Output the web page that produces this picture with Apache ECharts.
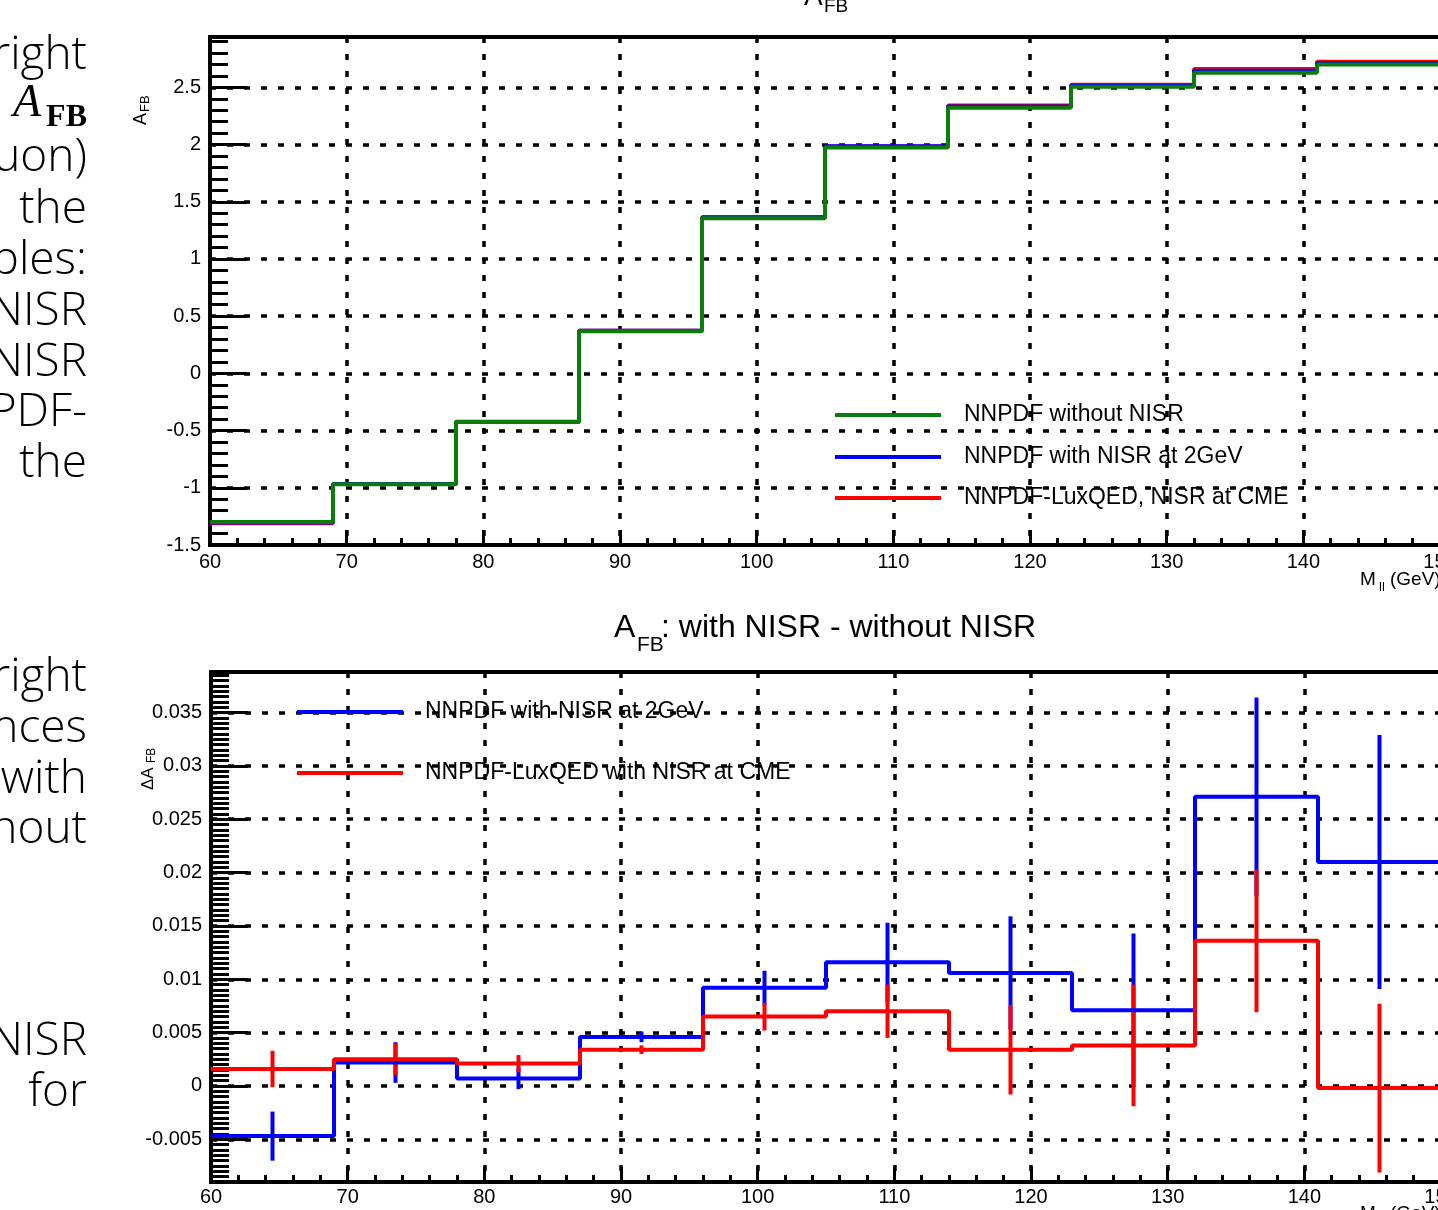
<!DOCTYPE html>
<html><head><meta charset="utf-8">
<script src="https://cdn.jsdelivr.net/npm/echarts/dist/echarts.min.js"></script>
<style>html,body{margin:0;padding:0;background:#fff;overflow:hidden}#c{width:1438px;height:1210px}</style>
</head><body><div id="c"></div>
<script>
// ---- data ----
const binEdges = [60, 69, 78, 87, 96, 105, 114, 123, 132, 141, 150];
// top panel: A_FB
const afbNoNISR   = [-1.300, -0.968, -0.425, 0.368, 1.355, 1.975, 2.322, 2.505, 2.628, 2.700];
const afbNISR2GeV = [-1.303, -0.966, -0.424, 0.372, 1.364, 1.986, 2.333, 2.513, 2.645, 2.712];
const afbLuxQED   = [-1.310, -0.966, -0.422, 0.372, 1.363, 1.983, 2.342, 2.522, 2.660, 2.724];
// bottom panel: delta A_FB with errors
const dAfbNISR2GeV    = [-0.0047, 0.0022, 0.0007, 0.0046, 0.0092, 0.0116, 0.0106, 0.0071, 0.0271, 0.0210];
const dAfbNISR2GeVErr = [0.0023, 0.0019, 0.0010, 0.0005, 0.0016, 0.0037, 0.0053, 0.0072, 0.0093, 0.0119];
const dAfbLuxQED      = [0.0016, 0.0025, 0.0021, 0.0034, 0.0065, 0.0070, 0.0034, 0.0038, 0.0136, -0.0002];
const dAfbLuxQEDErr   = [0.0017, 0.0015, 0.0008, 0.0004, 0.0013, 0.0025, 0.0042, 0.0057, 0.0067, 0.0079];
// axis ranges
const xRange = [60, 150];
const yRangeTop = [-1.5, 2.94];
const yRangeBottom = [-0.009, 0.0388];
// legend texts
const nameNoNISR = 'NNPDF without NISR';
const nameNISR2GeV = 'NNPDF with NISR at 2GeV';
const nameLuxTop = 'NNPDF-LuxQED, NISR at CME';
const nameLuxBottom = 'NNPDF-LuxQED with NISR at CME';

const FONT = 'Liberation Sans, Arial, Helvetica, sans-serif';
const GREEN = '#0b7d0b', BLUE = '#0000ff', RED = '#ff0000';

function stepData(vals) {
  const d = vals.map((v, i) => [binEdges[i], v]);
  d.push([binEdges[binEdges.length - 1], vals[vals.length - 1]]);
  return d;
}
function errData(vals, errs) {
  return vals.map((v, i) => [(binEdges[i] + binEdges[i + 1]) / 2, v, errs[i]]);
}
function stepSeries(name, vals, color, idx) {
  return {
    type: 'line', name: name, data: stepData(vals), step: 'end',
    xAxisIndex: idx, yAxisIndex: idx, showSymbol: false, symbol: 'none',
    color: color, lineStyle: { color: color, width: 4 }, clip: true, z: 3
  };
}
function errSeries(vals, errs, color, idx) {
  return {
    type: 'custom', name: 'err' + color + idx, data: errData(vals, errs),
    xAxisIndex: idx, yAxisIndex: idx, encode: { x: 0, y: 1 }, z: 3,
    renderItem: function (params, api) {
      const x = api.value(0), y = api.value(1), e = api.value(2);
      const p1 = api.coord([x, y - e]), p2 = api.coord([x, y + e]);
      return { type: 'line', shape: { x1: p1[0], y1: p1[1], x2: p2[0], y2: p2[1] },
        style: { stroke: color, lineWidth: 4 } };
    }
  };
}
const gridLine = { show: true, lineStyle: { color: '#000', width: 3.5, type: [6, 11] } };
function xAxis(idx, margin) {
  return {
    type: 'value', gridIndex: idx, min: xRange[0], max: xRange[1], interval: 10,
    axisLine: { show: true, onZero: false, lineStyle: { color: '#000', width: 4 } },
    axisTick: { show: true, inside: true, length: 15, lineStyle: { color: '#000', width: 3 } },
    minorTick: { show: true, splitNumber: 5, length: 7, lineStyle: { color: '#000', width: 3 } },
    axisLabel: { color: '#000', fontSize: 20, fontFamily: FONT, margin: margin },
    splitLine: gridLine, minorSplitLine: { show: false }
  };
}
const legendBase = {
  icon: 'rect', itemWidth: 106, itemHeight: 4, selectedMode: false, padding: 0,
  orient: 'vertical'
};
function legend(name, left, cy, gap) {
  return Object.assign({}, legendBase, {
    data: [name], left: left, top: cy - 12,
    textStyle: { color: '#000', fontSize: 23, fontFamily: FONT, lineHeight: 24, padding: [0, 0, 0, gap] }
  });
}
function txt(t, x, y, size, opts) {
  return { type: 'text', x: x, y: y, silent: true, z: 10,
    style: Object.assign({ text: t, fill: '#000', fontSize: size, fontFamily: FONT,
      align: 'left', verticalAlign: 'middle' }, opts || {}) };
}
const SIDE = { fontFamily: 'Open Sans, Noto Sans, sans-serif', fontWeight: 300, align: 'right' };
const sideTop = [['right', 56], ['uon)', 158], ['the', 210], ['bles:', 261], ['NISR', 312], ['NISR', 363], ['PDF-', 413], ['the', 464]];
const sideBottom = [['right', 678], ['nces', 729], ['with', 780], ['hout', 830], ['NISR', 1042], ['for', 1093]];

const graphics = [];
sideTop.concat(sideBottom).forEach(function (s) { graphics.push(txt(s[0], 87, s[1], 46, SIDE)); });
graphics.push(txt('A', 41, 104, 46, { fontFamily: 'Liberation Serif, DejaVu Serif, serif', fontStyle: 'italic', align: 'right' }));
graphics.push(txt('FB', 87, 118, 32, { fontFamily: 'Liberation Serif, DejaVu Serif, serif', fontWeight: 'bold', align: 'right' }));
// titles
graphics.push(txt('A', 804, -3, 28));
graphics.push(txt('FB', 824, 7, 19));
graphics.push(txt('A', 614, 628, 32));
graphics.push(txt('FB', 637, 645, 21));
graphics.push(txt(': with NISR - without NISR', 661, 628, 32));
// y axis names (rotated)
graphics.push({ type: 'group', x: 141, y: 125, rotation: Math.PI / 2, silent: true, children: [
  txt('A', 0, 0, 18), txt('FB', 13, 4, 13) ] });
graphics.push({ type: 'group', x: 148, y: 790, rotation: Math.PI / 2, silent: true, children: [
  txt('\u0394A', 0, 0, 17), txt('FB', 27, 4, 12) ] });
// x axis names
graphics.push(txt('M', 1360, 580, 19));
graphics.push(txt('ll', 1379, 587, 13));
graphics.push(txt('(GeV)', 1390, 580, 19));
graphics.push(txt('M', 1360, 1214, 19));
graphics.push(txt('ll', 1379, 1221, 13));
graphics.push(txt('(GeV)', 1390, 1214, 19));

const option = {
  animation: false,
  backgroundColor: '#fff',
  grid: [
    { left: 210, top: 37, width: 1230, height: 508, show: true, borderColor: '#000', borderWidth: 4, backgroundColor: 'transparent', outerBoundsMode: 'none', containLabel: false },
    { left: 211, top: 672, width: 1230, height: 510, show: true, borderColor: '#000', borderWidth: 4, backgroundColor: 'transparent', outerBoundsMode: 'none', containLabel: false }
  ],
  xAxis: [xAxis(0, 7), xAxis(1, 5)],
  yAxis: [
    {
      type: 'value', gridIndex: 0, min: yRangeTop[0], max: yRangeTop[1], interval: 0.5,
      axisLine: { show: true, onZero: false, lineStyle: { color: '#000', width: 4 } },
      axisTick: { show: true, inside: true, length: 37, lineStyle: { color: '#000', width: 3 } },
      minorTick: { show: true, splitNumber: 5, length: 18, lineStyle: { color: '#000', width: 3 } },
      axisLabel: { color: '#000', fontSize: 20, fontFamily: FONT, margin: 9, showMaxLabel: false },
      splitLine: gridLine
    },
    {
      type: 'value', gridIndex: 1, min: yRangeBottom[0], max: yRangeBottom[1], splitNumber: 10,
      axisLine: { show: true, onZero: false, lineStyle: { color: '#000', width: 4 } },
      axisTick: { show: true, inside: true, length: 37, lineStyle: { color: '#000', width: 3 } },
      minorTick: { show: true, splitNumber: 10, length: 18, lineStyle: { color: '#000', width: 3 } },
      axisLabel: { color: '#000', fontSize: 20, fontFamily: FONT, margin: 9, showMaxLabel: false, showMinLabel: false },
      splitLine: gridLine
    }
  ],
  legend: [
    legend(nameNoNISR, 835, 415, 18),
    legend(nameNISR2GeV, 835, 457, 18),
    legend(nameLuxTop, 835, 498, 18),
    legend(nameNISR2GeV, 297, 712, 17),
    legend(nameLuxBottom, 297, 773, 17)
  ],
  series: [
    stepSeries(nameLuxTop, afbLuxQED, RED, 0),
    stepSeries(nameNISR2GeV, afbNISR2GeV, BLUE, 0),
    stepSeries(nameNoNISR, afbNoNISR, GREEN, 0),
    stepSeries(nameNISR2GeV, dAfbNISR2GeV, BLUE, 1),
    errSeries(dAfbNISR2GeV, dAfbNISR2GeVErr, BLUE, 1),
    stepSeries(nameLuxBottom, dAfbLuxQED, RED, 1),
    errSeries(dAfbLuxQED, dAfbLuxQEDErr, RED, 1)
  ],
  graphic: graphics
};
const chart = echarts.init(document.getElementById('c'), null, { renderer: 'canvas', width: 1438, height: 1210 });
chart.setOption(option);
</script>
</body></html>
